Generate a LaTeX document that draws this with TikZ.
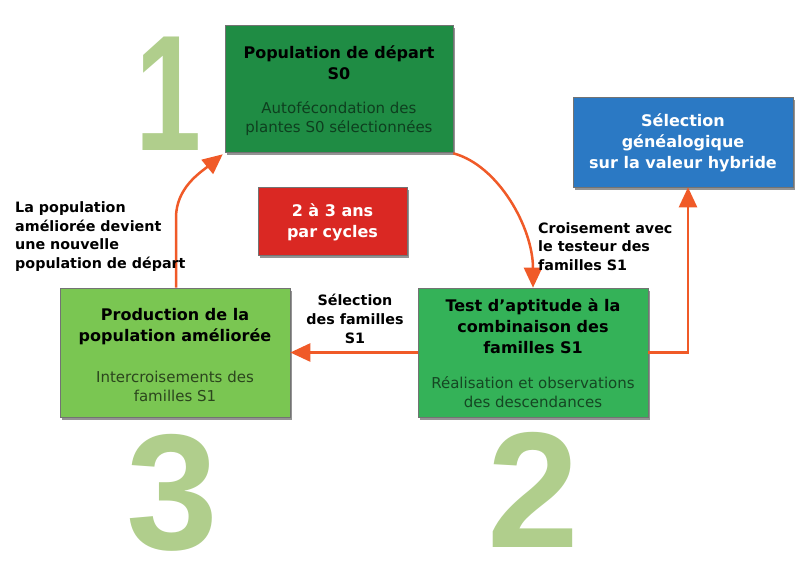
\documentclass[tikz,border=0pt]{standalone}
\usepackage{fontspec}
\setmainfont{DejaVu Sans}
\newfontfamily\digitfont{Liberation Sans}
\usetikzlibrary{arrows.meta,shadows,calc}
\definecolor{darkgreen}{RGB}{31,140,68}
\definecolor{midgreen}{RGB}{52,178,88}
\definecolor{lightgreen}{RGB}{122,198,82}
\definecolor{bluebox}{RGB}{43,121,196}
\definecolor{redbox}{RGB}{218,40,35}
\definecolor{digitgreen}{RGB}{176,206,140}
\definecolor{arroworange}{RGB}{240,90,40}
\begin{document}
\begin{tikzpicture}[x=1pt,y=-1pt,
  box/.style={draw=black!55, line width=0.6pt, inner sep=0pt,
    drop shadow={shadow xshift=2pt,shadow yshift=-3pt,fill=black!60,opacity=0.7}},
  title/.style={font=\bfseries\fontsize{16}{21}\selectfont, align=center, inner sep=0pt},
  sub/.style={font=\fontsize{15}{19}\selectfont, align=center, inner sep=0pt},
  lab/.style={font=\bfseries\fontsize{14.3}{18.8}\selectfont, align=left, inner sep=0pt},
  digit/.style={font=\digitfont\bfseries\fontsize{165}{165}\selectfont, text=digitgreen, anchor=base, inner sep=0pt},
  flow/.style={draw=arroworange, line width=2.5pt, -{Triangle[length=20pt,width=18pt]}}]
\useasboundingbox[fill=white] (0,0) rectangle (803,563);

% big digits
\node[digit, xscale=0.72] (d1) at (169,150) {1};
\node[digit] (d3) at (172.5,549) {3};
\node[digit] (d2) at (533.5,547) {2};

% boxes
\node[box, fill=darkgreen, minimum width=228pt, minimum height=127pt] (b1) at (339,88.5) {};
\node[title] (b1t) at (339,62.5) {Population de départ\\S0};
\node[sub, text=darkgreen!45!black] (b1s) at (339,119) {Autofécondation des\\plantes S0 sélectionnées};

\node[box, fill=bluebox, minimum width=220pt, minimum height=90pt] (bb) at (683,142) {};
\node[title, text=white] (bbt) at (683,143) {Sélection\\généalogique\\sur la valeur hybride};

\node[box, fill=redbox, minimum width=149pt, minimum height=68pt] (rd) at (332.5,221) {};
\node[title, text=white] (rdt) at (332.5,222.5) {2 à 3 ans\\par cycles};

\node[box, fill=lightgreen, minimum width=230pt, minimum height=129pt] (lb) at (175,352.5) {};
\node[title] (lbt) at (175,326.5) {Production de la\\population améliorée};
\node[sub, text=lightgreen!35!black] (lbs) at (175,386) {Intercroisements des\\familles S1};

\node[box, fill=midgreen, minimum width=230pt, minimum height=129pt] (rb) at (533,352.5) {};
\node[title] (rbt) at (533,326.5) {Test d'aptitude à la\\combinaison des\\familles S1};
\node[sub, text=midgreen!40!black] (rbs) at (533,392.5) {Réalisation et observations\\des descendances};

% connectors
\coordinate (lbtop) at ($(lb.north)+(1,0)$);
\draw[flow] (lbtop) -- ++(0,-70) .. controls +(0,-30) and +(-22,18) .. ($(b1.south west)+(-2,2)$);
\draw[flow] ($(b1.south east)+(0,1)$) .. controls +(45,12) and +(0,-60) .. (rb.north);
\draw[flow] (rb.west) -- (lb.east);
\coordinate (bbfoot) at ($(bb.south)+(5,0)$);
\draw[flow] (rb.east) -| (bbfoot);

% labels
\node[lab, anchor=west] (l1) at (15,236.5) {La population\\améliorée devient\\une nouvelle\\population de départ};
\node[lab, anchor=west] (l2) at (538,246.5) {Croisement avec\\le testeur des\\familles S1};
\node[lab, align=center] (l3) at (355,319) {Sélection\\des familles\\S1};
\end{tikzpicture}
\end{document}
